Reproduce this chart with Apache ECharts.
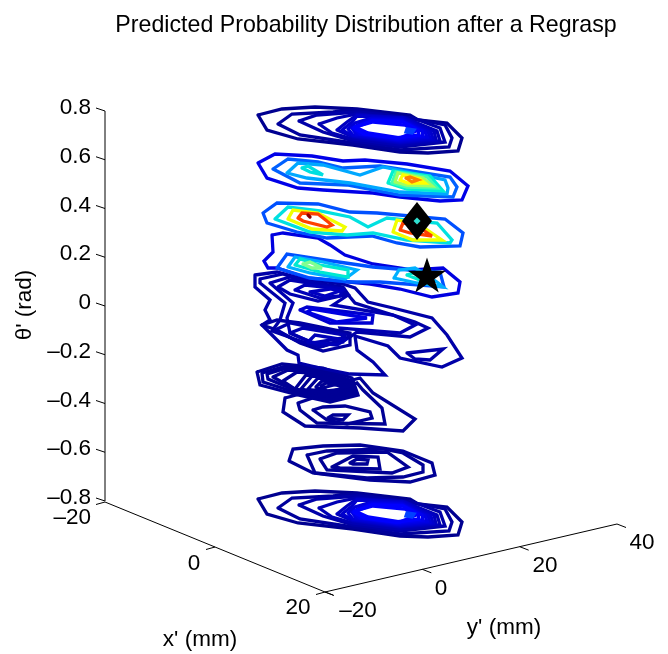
<!DOCTYPE html>
<html><head><meta charset="utf-8">
<style>html,body{margin:0;padding:0;background:#fff}#c{width:668px;height:654px}</style>
<script src="https://cdn.jsdelivr.net/npm/echarts@6/dist/echarts.min.js"></script>
</head><body><div id="c"></div>
<script>
const titleText = "Predicted Probability Distribution after a Regrasp";
const thetaTicks = [0.8,0.6,0.4,0.2,0,-0.2,-0.4,-0.6,-0.8];
const xTicks = [-20,0,20];
const yTicks = [-20,0,20,40];

const sliceTop = [
 [[258,115],[282,109],[315,107],[357,109],[410,115],[418,120],[447,123],[462,138],[458,151],[428,153],[400,152],[353,145],[298,139],[267,130]],
 [[278,124],[292,114],[333,112],[357,110],[420,120],[445,125],[452,138],[449,147],[400,150],[353,143],[300,135]],
 [[299,121],[317,115],[357,112],[413,118],[440,128],[445,142],[400,147],[353,141],[323,132]],
 [[319,124],[337,118],[357,114],[407,119],[437,131],[440,141],[400,145],[353,139],[332,133]],
 [[337,130],[347,122],[357,115],[405,118],[434,131],[436,140],[400,143],[353,137]],
 [[342,130],[352,122],[357,116],[403,118],[431,132],[433,139],[400,142],[353,136]],
 [[348,129],[355,123],[372,118],[402,119],[428,132],[430,138],[400,141],[353,135]],
 [[352,128],[370,119],[402,120],[425,132],[427,137],[398,140],[356,134]],
 [[353,128],[372,120],[402,121],[422,131],[423,136],[397,139],[360,134]],
 [[354,128],[372,121],[403,122],[418,130],[419,135],[396,138],[364,134]],
 [[355,127],[373,122],[405,125],[416,131],[400,138],[368,133]],
 [[407,129],[414,130],[412,133],[406,132]]
];
const sliceTopColors = ["#000090","#00009c","#0000a8","#0000b4","#0000c0","#0000cc","#0000d8","#0000e4","#0000f0","#0000ff","#0000ff","#0040ff"];
const sliceBottomShift = 384;

const sliceB = [
 [[258,163],[275,154],[312,156],[343,161],[365,160],[407,164],[450,171],[468,186],[462,200],[440,201],[400,197],[373,193],[323,190],[298,188],[267,178]],
 [[273,169],[288,159],[318,162],[343,168],[380,166],[450,177],[457,187],[453,197],[400,195],[347,185],[300,183]],
 [[287,173],[298,163],[323,165],[360,175],[383,167],[445,180],[448,188],[447,194],[400,192],[350,183],[307,178]],
 [[302,168],[308,166],[323,175],[310,172]],
 [[388,183],[393,171],[430,176],[443,191],[407,189]],
 [[392,183],[396,172],[427,177],[437,188],[407,187]],
 [[395,182],[398,173],[423,178],[432,186],[407,185]],
 [[400,180],[403,175],[420,179],[425,183],[408,183]],
 [[406,178],[410,177],[418,180],[412,182]]
];
const sliceBColors = ["#0000e8","#0060ff","#00a8ff","#00e0e0","#00f0d0","#40ffb0","#a0ff60","#ffff00","#ff8000"];

const sliceC = [
 [[263,213],[277,203],[318,204],[350,212],[377,213],[445,219],[463,233],[460,246],[420,247],[397,243],[372,236],[327,238],[297,232],[267,223]],
 [[275,219],[288,207],[320,211],[350,217],[368,227],[387,218],[437,223],[452,240],[450,243],[407,240],[373,233],[347,235],[310,232]],
 [[288,219],[293,210],[318,213],[345,227],[342,231],[312,229]],
 [[298,218],[302,213],[318,214],[332,225],[327,227],[303,221]],
 [[393,232],[397,220],[417,223],[442,240],[413,240]],
 [[400,230],[403,223],[417,226],[432,236],[410,233]],
 [[308,215],[310,217]]
];
const sliceCColors = ["#0050ff","#00e0e0","#f0ff00","#ff4000","#f0ff00","#ff4000","#900000"];

const sliceD = [
 [[272,235],[283,233],[318,238],[330,245],[345,255],[373,264],[412,270],[443,268],[460,282],[458,293],[432,297],[400,289],[370,284],[307,278],[277,268],[268,268],[264,261],[273,252]],
 [[277,268],[287,254],[325,260],[373,267],[410,270],[440,272],[444,287],[420,285],[380,282],[350,282],[310,278]],
 [[288,267],[295,257],[323,262],[357,270],[345,279],[310,273]],
 [[394,278],[399,270],[415,268],[437,282],[443,287],[417,283]],
 [[295,265],[300,259],[320,265],[348,270],[348,277],[320,272]],
 [[407,275],[413,273],[427,278],[420,280]],
 [[303,264],[310,262],[322,268],[312,268]]
];
const sliceDColors = ["#0000e0","#0050ff","#00b0ff","#00b0ff","#00e8d0","#00e8d0","#80ff90"];

const sliceE = [
 [[255,275],[277,272],[303,279],[343,284],[355,288],[368,302],[393,308],[432,318],[447,335],[462,358],[442,367],[400,358],[388,346],[355,336],[357,350],[373,362],[385,375],[350,374],[320,368],[299,363],[298,355],[287,350],[262,325],[270,320],[265,310],[270,300],[255,287]],
 [[260,279],[283,274],[307,282],[343,287],[350,297],[355,303],[415,322],[428,328],[410,337],[357,332],[350,337],[323,346],[303,342],[272,331],[280,320],[285,303],[260,283]],
 [[270,283],[290,277],[337,288],[348,295],[333,305],[393,315],[415,325],[400,333],[340,328],[343,338],[313,343],[290,333],[287,318],[293,303]],
 [[278,287],[290,280],[335,287],[345,295],[318,301],[290,294]],
 [[295,290],[305,285],[343,289],[340,296],[320,298]],
 [[310,292],[330,289],[340,291],[325,296]],
 [[300,310],[307,307],[373,315],[372,323],[330,323]],
 [[307,312],[312,309],[367,318],[337,322]],
 [[262,325],[277,320],[300,323],[350,333],[350,345],[323,351],[300,343],[277,330]],
 [[275,330],[290,323],[350,335],[345,340],[320,347],[295,340]],
 [[290,333],[303,328],[345,335],[343,342],[318,345]],
 [[308,342],[315,335],[345,340],[337,345]],
 [[407,353],[443,349],[430,360],[415,359]]
];
const sliceEColors = ["#0000a8","#0000a8","#0000b0","#0000b0","#0000b8","#0000c0","#0000d0","#0000e0","#0000a0","#0000a8","#0000b0","#0000b8","#0000a8"];

const sliceH = [
 [[257,372],[282,364],[323,368],[352,378],[358,395],[330,402],[298,395],[260,385]],
 [[262,373],[283,367],[323,370],[352,381],[357,394],[330,401],[298,393],[263,382]],
 [[267,374],[287,368],[323,372],[350,382],[355,393],[330,399],[297,391],[268,379]],
 [[273,377],[288,370],[323,373],[348,382],[354,392],[329,397],[296,390]],
 [[283,381],[297,372],[323,374],[347,382],[352,392],[328,396],[295,389]],
 [[295,389],[306,375],[323,376],[347,383],[351,391],[328,395]],
 [[301,389],[312,376],[323,377],[346,384],[350,391],[328,394]],
 [[308,389],[318,378],[325,379],[345,385],[349,390],[327,393]],
 [[316,387],[322,381],[328,381],[343,386],[347,390],[326,392]],
 [[321,386],[326,383],[340,386],[345,389],[327,391]],
 [[285,398],[283,412],[305,426],[360,428],[403,431],[415,419],[373,393],[360,378]],
 [[298,403],[300,410],[317,423],[385,424],[382,408],[363,390],[357,383]],
 [[313,410],[323,407],[345,406],[370,412],[372,418],[347,424],[327,420]],
 [[328,418],[333,415],[348,415],[343,420]]
];
const sliceI = [
 [[289,461],[293,449],[323,446],[360,445],[403,451],[432,463],[435,475],[410,482],[370,480],[313,473]],
 [[307,455],[327,451],[383,449],[403,453],[423,465],[423,472],[403,477],[367,478],[315,473]],
 [[320,459],[337,453],[387,452],[408,467],[392,473],[327,470]],
 [[332,467],[353,456],[378,457],[380,469],[340,468]],
 [[350,463],[357,459],[368,460],[367,464],[353,464]]
];
const navy = "#000096";
const diamondPoint = [417,221];
const starPoint = [427,275];

// Projection of the 3-D box axes onto the plane
const xAt = v => [105 + (v+20)/40*220, 502 + (v+20)/40*90];
const yAt = v => [325 + (v+20)/60*292, 592 - (v+20)/60*68];
const zAt = v => [105, 306 - v*243.75];

const series = [];
const black = "#000";
function seg(d, w){ series.push({type:'line',data:d,showSymbol:false,symbol:'none',silent:true,animation:false,
  lineStyle:{color:black,width:w||1,opacity:1},z:1}); }
seg([zAt(0.8),zAt(-0.8)]);
seg([xAt(-20),xAt(20),[333,595]]);
seg([yAt(-20),yAt(40)]);
thetaTicks.forEach(t=>{const p=zAt(t); seg([p,[p[0]-9,p[1]-3]]);});
xTicks.forEach(t=>{const p=xAt(t); seg([p,[p[0]-9,p[1]+2.5]]);});
yTicks.forEach(t=>{const p=yAt(t); seg([p,[p[0]+9,p[1]+3.5]]);});

function rings(list, colors, dy){
  list.forEach((r,i)=>{
    const d=r.map(p=>[p[0],p[1]+(dy||0)]); d.push(d[0]);
    series.push({type:'line',data:d,showSymbol:false,symbol:'none',silent:true,animation:false,
      lineStyle:{color:Array.isArray(colors)?colors[i]:colors,width:3.3,join:'miter',miterLimit:4,cap:'round',opacity:1},z:2});
  });
}
rings(sliceTop, sliceTopColors, sliceBottomShift);
rings(sliceI, navy);
rings(sliceH, navy);
rings(sliceE, sliceEColors);
rings(sliceD, sliceDColors);
rings(sliceC, sliceCColors);
rings(sliceB, sliceBColors);
rings(sliceTop, sliceTopColors);

series.push({type:'scatter',data:[diamondPoint],symbol:'diamond',symbolSize:[30,38],itemStyle:{color:'#000',opacity:1},silent:true,animation:false,z:5});
series.push({type:'scatter',data:[diamondPoint],symbol:'diamond',symbolSize:[7,7],itemStyle:{color:'#30e0d0',opacity:1},silent:true,animation:false,z:6});
series.push({type:'scatter',data:[starPoint],symbol:'path://M50 0 L61.8 36.3 L100 36.3 L69.1 58.8 L80.9 95.1 L50 72.6 L19.1 95.1 L30.9 58.8 L0 36.3 L38.2 36.3 Z',symbolSize:[38,35],itemStyle:{color:'#000',opacity:1},silent:true,animation:false,z:5});

const font = {fontFamily:'"Liberation Sans",Arial,sans-serif',fontSize:22.5,color:'#000'};
function txt(list, align, rot){
  series.push({type:'scatter',symbolSize:0,silent:true,animation:false,z:7,itemStyle:{opacity:1},
    data:list.map(l=>({value:l.p,label:{formatter:l.t}})),
    label:{show:true,position:'inside',align:align||'center',verticalAlign:'middle',rotate:rot||0,opacity:1,...font}});
}
const fmt = v => String(v).replace('-','\u2013');
txt(thetaTicks.map(t=>({p:[91,zAt(t)[1]-3],t:fmt(t)})),'right');
txt([{p:[91,518],t:fmt(-20)}],'right');
txt([{p:[194,564],t:fmt(0)},{p:[298,608],t:fmt(20)},{p:[358,611],t:fmt(-20)},{p:[441,589],t:fmt(0)},{p:[545,566],t:fmt(20)},{p:[642,543],t:fmt(40)},
     {p:[200,640],t:"x' (mm)"},{p:[504,628],t:"y' (mm)"}]);
txt([{p:[25,305],t:"\u03b8' (rad)"}],'center',90);

const chart = echarts.init(document.getElementById('c'),null,{renderer:'canvas'});
chart.setOption({
  animation:false,
  backgroundColor:'#fff',
  title:{text:titleText,left:361,top:9,textAlign:'center',textStyle:{fontFamily:font.fontFamily,fontSize:23.2,fontWeight:'normal',color:'#000'}},
  grid:{left:0,right:0,top:0,bottom:0},
  xAxis:{type:'value',min:0,max:668,show:false},
  yAxis:{type:'value',min:0,max:654,inverse:true,show:false},
  series
});
</script></body></html>
